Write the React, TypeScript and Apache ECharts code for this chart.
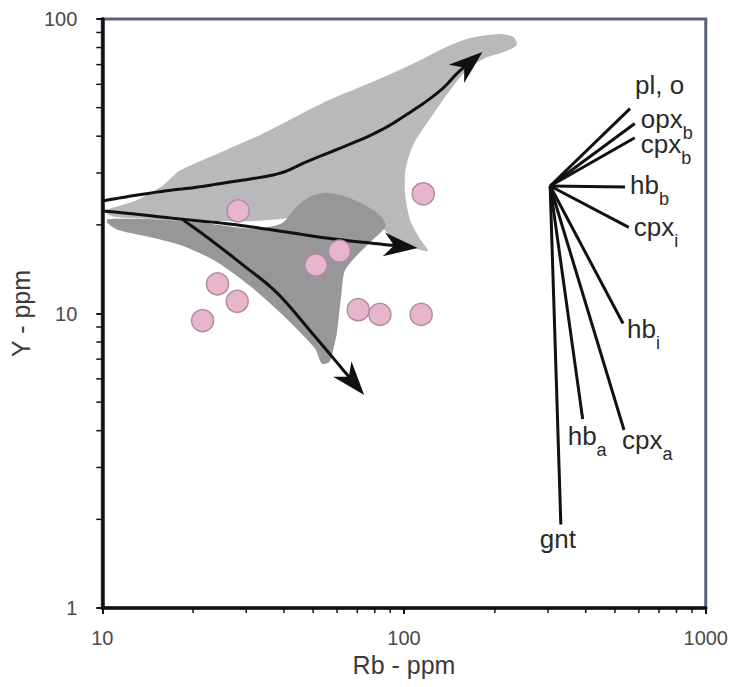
import React, { useEffect, useRef } from "react";
import * as echarts from "echarts";

const FONT = '"Liberation Sans", Arial, Helvetica, sans-serif';

// Sample analyses (Rb ppm, Y ppm)
const sampleRb = [28.2, 115.8, 61.1, 51.1, 24.1, 28.0, 21.5, 70.5, 83.2, 114];
const sampleY = [22.3, 25.5, 16.3, 14.6, 12.6, 11.0, 9.46, 10.3, 9.93, 9.93];

// Fields (outline vertices, [Rb, Y])
const lightField: [number, number][] = [
  [10.2, 22.3], [12.8, 24.1], [15.8, 27.1], [18.0, 30.5], [23.4, 34.4], [34.0, 40.8],
  [53.4, 51.7], [83.8, 62.9], [113, 72.5], [142, 81.5], [165, 86.1], [207, 88.9],
  [231, 86.8], [236, 81.5], [214, 77.2], [185, 73.6], [159, 65.9], [142, 57.2],
  [122, 45.9], [107, 37.2], [101, 30.5], [101, 25.1], [105, 20.6], [113, 17.9],
  [120, 16.3], [105, 16.9], [90.4, 18.3], [77.8, 21.4], [62, 23.2], [46, 21.4],
  [31.6, 20.6], [21.7, 20.6], [14.9, 20.9], [11.0, 21.3],
];
const darkField: [number, number][] = [
  [10.4, 20.9], [14.9, 20.9], [21.7, 20.3], [31.6, 19.4], [39.5, 20.3], [44.3, 23.2],
  [49.5, 25.1], [55.5, 25.7], [64.4, 24.9], [74.9, 23.2], [83.8, 21.4], [87.0, 19.8],
  [77.8, 17.6], [68.4, 15.4], [63.5, 13.9], [62.0, 11.6], [61.1, 10.2], [59.8, 8.48],
  [58.4, 7.6], [56.7, 6.86], [53.4, 6.75], [50.7, 7.6], [39.5, 9.92], [30.9, 12.4],
  [23.9, 15.0], [18.7, 16.9], [14.6, 18.1], [11.3, 19.2], [10.4, 20.3],
];

// Evolution trends (arrows)
const trendUpper: [number, number][] = [
  [10, 24.1], [12.6, 25.1], [16.3, 26.1], [19.8, 26.7], [25.6, 27.8], [38.1, 29.8],
  [48.4, 33.0], [79.5, 40.8], [107, 48.9], [132, 57.2], [150, 65.4], [182, 77.2],
];
const trendMiddle: [number, number][] = [
  [10, 22.3], [12.6, 21.8], [18.4, 20.9], [26.8, 20.1], [38.1, 19.1], [56.3, 18.0],
  [79.5, 17.3], [111, 16.7],
];
const trendLower: [number, number][] = [
  [18.4, 20.9], [22.5, 18.0], [28.8, 14.8], [38.1, 11.7], [50.7, 8.35], [73.8, 5.29],
];

// Fractionation vectors
const fanOrigin: [number, number] = [305, 27.1];
const fanMineral = ["pl, o", "opx", "cpx", "hb", "cpx", "hb", "hb", "cpx", "gnt"];
const fanSub = ["", "b", "b", "b", "i", "i", "a", "a", ""];
const fanEndRb = [561, 582, 582, 540, 556, 532, 391, 536, 331];
const fanEndY = [49.6, 44.2, 39.5, 26.9, 19.6, 9.25, 4.38, 4.02, 1.92];
const fanLabelOffset = [
  [5, -14], [6, 6], [6, 16], [5, 8], [5, 10], [4, 16], [-15, 27], [-2, 20], [-21, 24],
];

const xTickMinor = [20, 30, 40, 50, 60, 70, 80, 90, 200, 300, 400, 500, 600, 700, 800, 900];
const yTickMinor = [2, 3, 4, 5, 6, 7, 8, 9, 20, 30, 40, 50, 60, 70, 80, 90];

// Catmull-Rom interpolation in pixel space for smooth curves
function catmull(pts: number[][], seg = 10): number[][] {
  const out: number[][] = [];
  const n = pts.length;
  for (let i = 0; i < n - 1; i++) {
    const p0 = pts[i - 1] || pts[i];
    const p1 = pts[i];
    const p2 = pts[i + 1];
    const p3 = pts[i + 2] || pts[i + 1];
    for (let k = 0; k < seg; k++) {
      const t = k / seg;
      const t2 = t * t;
      const t3 = t2 * t;
      const f = (a: number, b: number, c: number, d: number) =>
        0.5 * (2 * b + (-a + c) * t + (2 * a - 5 * b + 4 * c - d) * t2 + (-a + 3 * b - 3 * c + d) * t3);
      out.push([f(p0[0], p1[0], p2[0], p3[0]), f(p0[1], p1[1], p2[1], p3[1])]);
    }
  }
  out.push(pts[n - 1]);
  return out;
}

function regionSeries(pts: [number, number][], fill: string, z: number) {
  return {
    type: "custom",
    coordinateSystem: "cartesian2d",
    silent: true,
    clip: false,
    z,
    data: [pts[0]],
    renderItem: (_p: any, api: any) => ({
      type: "polygon",
      shape: { points: pts.map((p) => api.coord(p)), smooth: 0.25 },
      style: { fill },
    }),
  };
}

function arrowSeries(pts: [number, number][], z: number) {
  return {
    type: "custom",
    coordinateSystem: "cartesian2d",
    silent: true,
    clip: false,
    z,
    data: [pts[0]],
    renderItem: (_p: any, api: any) => {
      const px = pts.map((p) => api.coord(p));
      const n = px.length;
      const tip = px[n - 1];
      const prev = px[n - 2];
      let dx = tip[0] - prev[0];
      let dy = tip[1] - prev[1];
      const len = Math.hypot(dx, dy) || 1;
      dx /= len;
      dy /= len;
      const L = 34;
      const W = 12;
      const nx = -dy;
      const ny = dx;
      const base = [tip[0] - L * dx, tip[1] - L * dy];
      const head = [
        tip,
        [base[0] + W * nx, base[1] + W * ny],
        [tip[0] - 0.7 * L * dx, tip[1] - 0.7 * L * dy],
        [base[0] - W * nx, base[1] - W * ny],
      ];
      const ctrl = px.slice(0, n - 1).concat([[tip[0] - 0.6 * L * dx, tip[1] - 0.6 * L * dy]]);
      const linePts = catmull(ctrl, 10);
      return {
        type: "group",
        children: [
          {
            type: "polyline",
            shape: { points: linePts },
            style: { stroke: "#111", lineWidth: 3, fill: null, lineJoin: "round" },
          },
          { type: "polygon", shape: { points: head }, style: { fill: "#111" } },
        ],
      };
    },
  };
}

export default function App() {
  const ref = useRef<HTMLDivElement>(null);

  useEffect(() => {
    if (!ref.current) return;
    const chart = echarts.init(ref.current, null, { renderer: "svg" });

    const axisCommon = {
      type: "log",
      logBase: 10,
      nameLocation: "middle",
      nameTextStyle: { fontFamily: FONT, fontSize: 25, color: "#3a3a3a" },
      axisLine: { show: true, lineStyle: { color: "#111", width: 3.5 } },
      axisTick: { show: true, inside: false, length: 6, lineStyle: { color: "#111", width: 2 } },
      axisLabel: { fontFamily: FONT, fontSize: 20, color: "#4a4a4a", formatter: (v: number) => String(v) },
      splitLine: { show: false },
      minorTick: { show: false },
    };

    const option: any = {
      animation: false,
      backgroundColor: "#fff",
      grid: {
        left: 94,
        right: 21,
        top: 19,
        bottom: 79,
        show: true,
        borderColor: "#5a6379",
        borderWidth: 3,
        backgroundColor: "#fff",
      },
      xAxis: {
        ...axisCommon,
        min: 10,
        max: 1000,
        name: "Rb - ppm",
        nameGap: 44,
        axisLabel: { ...axisCommon.axisLabel, margin: 20 },
      },
      yAxis: {
        ...axisCommon,
        min: 1,
        max: 100,
        name: "Y - ppm",
        nameGap: 50,
        axisLabel: { ...axisCommon.axisLabel, margin: 25 },
      },
      series: [
        regionSeries(lightField, "#b9b9bb", 1),
        regionSeries(darkField, "#97979a", 2),
        arrowSeries(trendUpper, 3),
        arrowSeries(trendMiddle, 3),
        arrowSeries(trendLower, 3),
        {
          type: "custom",
          coordinateSystem: "cartesian2d",
          silent: true,
          clip: false,
          z: 4,
          data: fanEndRb.map((x, i) => [x, fanEndY[i]]),
          renderItem: (params: any, api: any) => {
            const i = params.dataIndex;
            const o = api.coord(fanOrigin);
            const e = api.coord([api.value(0), api.value(1)]);
            const off = fanLabelOffset[i];
            const text = `{m|${fanMineral[i]}}` + (fanSub[i] ? `{s|${fanSub[i]}}` : "");
            return {
              type: "group",
              children: [
                {
                  type: "line",
                  shape: { x1: o[0], y1: o[1], x2: e[0], y2: e[1] },
                  style: { stroke: "#111", lineWidth: 3 },
                },
                {
                  type: "text",
                  x: e[0] + off[0],
                  y: e[1] + off[1],
                  style: {
                    text,
                    fill: "#2a2a2a",
                    fontFamily: FONT,
                    fontSize: 26,
                    align: "left",
                    verticalAlign: "middle",
                    rich: {
                      m: {
                        fontFamily: FONT,
                        fontSize: 26,
                        lineHeight: 26,
                        padding: [0, 0, 10, 0],
                        verticalAlign: "bottom",
                        fill: "#2a2a2a",
                      },
                      s: {
                        fontFamily: FONT,
                        fontSize: 18,
                        lineHeight: 18,
                        verticalAlign: "bottom",
                        fill: "#2a2a2a",
                      },
                    },
                  },
                },
              ],
            };
          },
        },
        {
          type: "scatter",
          z: 5,
          symbol: "circle",
          symbolSize: 22,
          data: sampleRb.map((x, i) => [x, sampleY[i]]),
          itemStyle: { color: "#e8b6cb", borderColor: "#b48aa0", borderWidth: 1.5, opacity: 1 },
        },
        {
          type: "custom",
          coordinateSystem: "cartesian2d",
          silent: true,
          clip: false,
          z: 6,
          data: xTickMinor.map((v) => [v, 1]),
          renderItem: (_p: any, api: any) => {
            const p = api.coord([api.value(0), api.value(1)]);
            return {
              type: "line",
              shape: { x1: p[0], y1: p[1], x2: p[0], y2: p[1] + 5 },
              style: { stroke: "#111", lineWidth: 1.5 },
            };
          },
        },
        {
          type: "custom",
          coordinateSystem: "cartesian2d",
          silent: true,
          clip: false,
          z: 6,
          data: yTickMinor.map((v) => [10, v]),
          renderItem: (_p: any, api: any) => {
            const p = api.coord([api.value(0), api.value(1)]);
            return {
              type: "line",
              shape: { x1: p[0], y1: p[1], x2: p[0] - 6, y2: p[1] },
              style: { stroke: "#111", lineWidth: 1.5 },
            };
          },
        },
      ],
    };

    chart.setOption(option);
    return () => chart.dispose();
  }, []);

  return (
    <div
      ref={ref}
      style={{ position: "absolute", left: 0, top: 0, width: 731, height: 687 }}
    />
  );
}
